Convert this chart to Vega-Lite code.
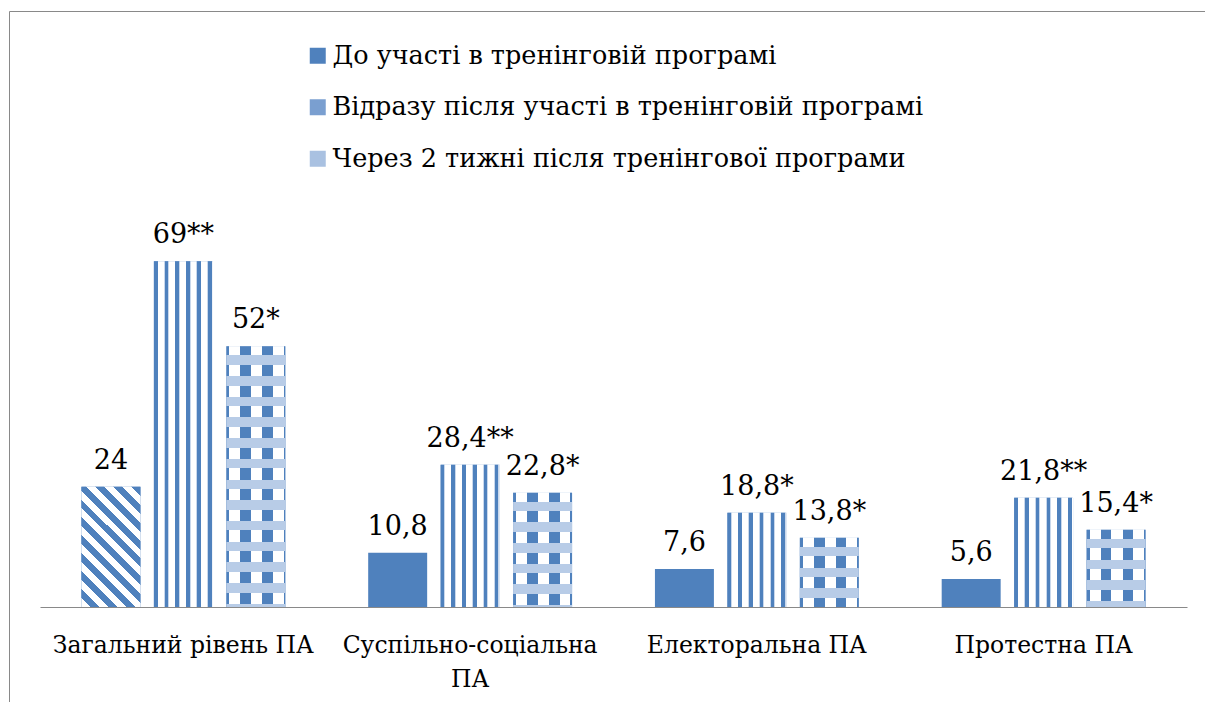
{
  "$schema": "https://vega.github.io/schema/vega-lite/v6.json",
  "width": 1202,
  "height": 697,
  "autosize": {"type": "none"},
  "padding": {"left": 9, "top": 11, "right": -6, "bottom": -6},
  "background": "#ffffff",
  "config": {
    "view": {"stroke": "#898989", "strokeWidth": 1},
    "font": "DejaVu Serif"
  },
  "data": {
    "values": [
      {"cat": "Загальний рівень ПА", "g": 1, "series": "До участі в тренінговій програмі", "k": 1, "v": 24, "lbl": "24"},
      {"cat": "Загальний рівень ПА", "g": 1, "series": "Відразу після участі в тренінговій програмі", "k": 2, "v": 69, "lbl": "69**"},
      {"cat": "Загальний рівень ПА", "g": 1, "series": "Через 2 тижні після тренінгової програми", "k": 3, "v": 52, "lbl": "52*"},
      {"cat": "Суспільно-соціальна ПА", "g": 2, "series": "До участі в тренінговій програмі", "k": 1, "v": 10.8, "lbl": "10,8"},
      {"cat": "Суспільно-соціальна ПА", "g": 2, "series": "Відразу після участі в тренінговій програмі", "k": 2, "v": 28.4, "lbl": "28,4**"},
      {"cat": "Суспільно-соціальна ПА", "g": 2, "series": "Через 2 тижні після тренінгової програми", "k": 3, "v": 22.8, "lbl": "22,8*"},
      {"cat": "Електоральна ПА", "g": 3, "series": "До участі в тренінговій програмі", "k": 1, "v": 7.6, "lbl": "7,6"},
      {"cat": "Електоральна ПА", "g": 3, "series": "Відразу після участі в тренінговій програмі", "k": 2, "v": 18.8, "lbl": "18,8*"},
      {"cat": "Електоральна ПА", "g": 3, "series": "Через 2 тижні після тренінгової програми", "k": 3, "v": 13.8, "lbl": "13,8*"},
      {"cat": "Протестна ПА", "g": 4, "series": "До участі в тренінговій програмі", "k": 1, "v": 5.6, "lbl": "5,6"},
      {"cat": "Протестна ПА", "g": 4, "series": "Відразу після участі в тренінговій програмі", "k": 2, "v": 21.8, "lbl": "21,8**"},
      {"cat": "Протестна ПА", "g": 4, "series": "Через 2 тижні після тренінгової програми", "k": 3, "v": 15.4, "lbl": "15,4*"}
    ]
  },
  "encoding": {
    "x": {
      "field": "cat",
      "type": "nominal",
      "sort": ["Загальний рівень ПА", "Суспільно-соціальна ПА", "Електоральна ПА", "Протестна ПА"],
      "scale": {"range": [31, 1178], "paddingInner": 0, "paddingOuter": 0},
      "axis": {
        "title": null,
        "orient": "bottom",
        "offset": -101,
        "domainColor": "#898989",
        "domainWidth": 1,
        "ticks": false,
        "grid": false,
        "labelFont": "DejaVu Serif",
        "labelFontSize": 23.5,
        "labelColor": "#000000",
        "labelPadding": 45,
        "labelBaseline": "alphabetic",
        "labelLineHeight": 34,
        "labelAngle": 0,
        "labelLimit": 600,
        "labelOverlap": false,
        "labelExpr": "datum.label == 'Суспільно-соціальна ПА' ? ['Суспільно-соціальна', 'ПА'] : datum.label"
      }
    },
    "xOffset": {
      "field": "series",
      "type": "nominal",
      "sort": ["До участі в тренінговій програмі", "Відразу після участі в тренінговій програмі", "Через 2 тижні після тренінгової програми"],
      "scale": {"paddingInner": 0.186, "paddingOuter": 0.572}
    },
    "y": {
      "field": "v",
      "type": "quantitative",
      "scale": {"domain": [0, 80], "range": [596, 195], "nice": false, "zero": true},
      "axis": null
    }
  },
  "layer": [
    {
      "mark": {"type": "bar"},
      "encoding": {
        "color": {
          "field": "series",
          "type": "nominal",
          "scale": {
            "domain": ["До участі в тренінговій програмі", "Відразу після участі в тренінговій програмі", "Через 2 тижні після тренінгової програми"],
            "range": ["#4F81BD", "#7A9FD0", "#A9C1E1"]
          },
          "legend": {
            "title": null,
            "orient": "none",
            "legendX": 296,
            "legendY": 32,
            "direction": "vertical",
            "padding": 0,
            "labelFont": "DejaVu Serif",
            "labelFontSize": 25.5,
            "labelColor": "#000000",
            "labelLimit": 900,
            "labelOffset": 2,
            "rowPadding": 24.5,
            "symbolType": "square",
            "symbolSize": 256,
            "symbolStrokeWidth": 0,
            "symbolOpacity": 1
          }
        }
      }
    },
    {
      "transform": [{"filter": "datum.k == 2"}],
      "mark": {
        "type": "bar",
        "fill": {
          "gradient": "linear", "x1": 0, "y1": 0, "x2": 1, "y2": 0,
          "stops": [
            {"offset": 0, "color": "#4F81BD"}, {"offset": 0.062, "color": "#4F81BD"},
            {"offset": 0.062, "color": "#C9D8EC"}, {"offset": 0.072, "color": "#C9D8EC"},
            {"offset": 0.072, "color": "#FFFFFF"}, {"offset": 0.173, "color": "#FFFFFF"},
            {"offset": 0.173, "color": "#C9D8EC"}, {"offset": 0.183, "color": "#C9D8EC"},
            {"offset": 0.183, "color": "#4F81BD"}, {"offset": 0.245, "color": "#4F81BD"},
            {"offset": 0.245, "color": "#C9D8EC"}, {"offset": 0.255, "color": "#C9D8EC"},
            {"offset": 0.255, "color": "#FFFFFF"}, {"offset": 0.356, "color": "#FFFFFF"},
            {"offset": 0.356, "color": "#C9D8EC"}, {"offset": 0.366, "color": "#C9D8EC"},
            {"offset": 0.366, "color": "#4F81BD"}, {"offset": 0.428, "color": "#4F81BD"},
            {"offset": 0.428, "color": "#C9D8EC"}, {"offset": 0.438, "color": "#C9D8EC"},
            {"offset": 0.438, "color": "#FFFFFF"}, {"offset": 0.539, "color": "#FFFFFF"},
            {"offset": 0.539, "color": "#C9D8EC"}, {"offset": 0.549, "color": "#C9D8EC"},
            {"offset": 0.549, "color": "#4F81BD"}, {"offset": 0.611, "color": "#4F81BD"},
            {"offset": 0.611, "color": "#C9D8EC"}, {"offset": 0.621, "color": "#C9D8EC"},
            {"offset": 0.621, "color": "#FFFFFF"}, {"offset": 0.722, "color": "#FFFFFF"},
            {"offset": 0.722, "color": "#C9D8EC"}, {"offset": 0.732, "color": "#C9D8EC"},
            {"offset": 0.732, "color": "#4F81BD"}, {"offset": 0.794, "color": "#4F81BD"},
            {"offset": 0.794, "color": "#C9D8EC"}, {"offset": 0.804, "color": "#C9D8EC"},
            {"offset": 0.804, "color": "#FFFFFF"}, {"offset": 0.905, "color": "#FFFFFF"},
            {"offset": 0.905, "color": "#C9D8EC"}, {"offset": 0.915, "color": "#C9D8EC"},
            {"offset": 0.915, "color": "#4F81BD"}, {"offset": 0.977, "color": "#4F81BD"},
            {"offset": 0.977, "color": "#C9D8EC"}, {"offset": 0.987, "color": "#C9D8EC"},
            {"offset": 0.987, "color": "#FFFFFF"}, {"offset": 1, "color": "#FFFFFF"}
          ]
        }
      }
    },
    {
      "transform": [{"filter": "datum.k == 3"}],
      "mark": {
        "type": "bar",
        "fill": {
          "gradient": "linear", "x1": 0, "y1": 0, "x2": 1, "y2": 0,
          "stops": [
            {"offset": 0, "color": "#4F81BD"}, {"offset": 0.05, "color": "#4F81BD"},
            {"offset": 0.05, "color": "#FFFFFF"}, {"offset": 0.24, "color": "#FFFFFF"},
            {"offset": 0.24, "color": "#4F81BD"}, {"offset": 0.42, "color": "#4F81BD"},
            {"offset": 0.42, "color": "#FFFFFF"}, {"offset": 0.61, "color": "#FFFFFF"},
            {"offset": 0.61, "color": "#4F81BD"}, {"offset": 0.79, "color": "#4F81BD"},
            {"offset": 0.79, "color": "#FFFFFF"}, {"offset": 0.97, "color": "#FFFFFF"},
            {"offset": 0.97, "color": "#4F81BD"}, {"offset": 1, "color": "#4F81BD"}
          ]
        }
      }
    },
    {
      "transform": [{"filter": "datum.k == 3 && datum.g == 1"}],
      "mark": {
        "type": "bar",
        "fill": {
          "gradient": "linear", "x1": 0, "y1": 0, "x2": 0, "y2": 1,
          "stops": [
            {"offset": 0, "color": "rgba(184,204,231,0)"}, {"offset": 0.0345, "color": "rgba(184,204,231,0)"},
            {"offset": 0.0345, "color": "#B8CCE7"}, {"offset": 0.071, "color": "#B8CCE7"},
            {"offset": 0.071, "color": "rgba(184,204,231,0)"}, {"offset": 0.1139, "color": "rgba(184,204,231,0)"},
            {"offset": 0.1139, "color": "#B8CCE7"}, {"offset": 0.1504, "color": "#B8CCE7"},
            {"offset": 0.1504, "color": "rgba(184,204,231,0)"}, {"offset": 0.1934, "color": "rgba(184,204,231,0)"},
            {"offset": 0.1934, "color": "#B8CCE7"}, {"offset": 0.2298, "color": "#B8CCE7"},
            {"offset": 0.2298, "color": "rgba(184,204,231,0)"}, {"offset": 0.2728, "color": "rgba(184,204,231,0)"},
            {"offset": 0.2728, "color": "#B8CCE7"}, {"offset": 0.3092, "color": "#B8CCE7"},
            {"offset": 0.3092, "color": "rgba(184,204,231,0)"}, {"offset": 0.3522, "color": "rgba(184,204,231,0)"},
            {"offset": 0.3522, "color": "#B8CCE7"}, {"offset": 0.3886, "color": "#B8CCE7"},
            {"offset": 0.3886, "color": "rgba(184,204,231,0)"}, {"offset": 0.4316, "color": "rgba(184,204,231,0)"},
            {"offset": 0.4316, "color": "#B8CCE7"}, {"offset": 0.4681, "color": "#B8CCE7"},
            {"offset": 0.4681, "color": "rgba(184,204,231,0)"}, {"offset": 0.511, "color": "rgba(184,204,231,0)"},
            {"offset": 0.511, "color": "#B8CCE7"}, {"offset": 0.5475, "color": "#B8CCE7"},
            {"offset": 0.5475, "color": "rgba(184,204,231,0)"}, {"offset": 0.5904, "color": "rgba(184,204,231,0)"},
            {"offset": 0.5904, "color": "#B8CCE7"}, {"offset": 0.6269, "color": "#B8CCE7"},
            {"offset": 0.6269, "color": "rgba(184,204,231,0)"}, {"offset": 0.6699, "color": "rgba(184,204,231,0)"},
            {"offset": 0.6699, "color": "#B8CCE7"}, {"offset": 0.7063, "color": "#B8CCE7"},
            {"offset": 0.7063, "color": "rgba(184,204,231,0)"}, {"offset": 0.7493, "color": "rgba(184,204,231,0)"},
            {"offset": 0.7493, "color": "#B8CCE7"}, {"offset": 0.7857, "color": "#B8CCE7"},
            {"offset": 0.7857, "color": "rgba(184,204,231,0)"}, {"offset": 0.8287, "color": "rgba(184,204,231,0)"},
            {"offset": 0.8287, "color": "#B8CCE7"}, {"offset": 0.8651, "color": "#B8CCE7"},
            {"offset": 0.8651, "color": "rgba(184,204,231,0)"}, {"offset": 0.9081, "color": "rgba(184,204,231,0)"},
            {"offset": 0.9081, "color": "#B8CCE7"}, {"offset": 0.9446, "color": "#B8CCE7"},
            {"offset": 0.9446, "color": "rgba(184,204,231,0)"}, {"offset": 0.9875, "color": "rgba(184,204,231,0)"},
            {"offset": 0.9875, "color": "#B8CCE7"}, {"offset": 1, "color": "#B8CCE7"}
          ]
        }
      }
    },
    {
      "transform": [{"filter": "datum.k == 3 && datum.g == 2"}],
      "mark": {
        "type": "bar",
        "fill": {
          "gradient": "linear", "x1": 0, "y1": 0, "x2": 0, "y2": 1,
          "stops": [
            {"offset": 0, "color": "rgba(184,204,231,0)"}, {"offset": 0.0787, "color": "rgba(184,204,231,0)"},
            {"offset": 0.0787, "color": "#B8CCE7"}, {"offset": 0.1619, "color": "#B8CCE7"},
            {"offset": 0.1619, "color": "rgba(184,204,231,0)"}, {"offset": 0.2598, "color": "rgba(184,204,231,0)"},
            {"offset": 0.2598, "color": "#B8CCE7"}, {"offset": 0.343, "color": "#B8CCE7"},
            {"offset": 0.343, "color": "rgba(184,204,231,0)"}, {"offset": 0.4409, "color": "rgba(184,204,231,0)"},
            {"offset": 0.4409, "color": "#B8CCE7"}, {"offset": 0.5241, "color": "#B8CCE7"},
            {"offset": 0.5241, "color": "rgba(184,204,231,0)"}, {"offset": 0.622, "color": "rgba(184,204,231,0)"},
            {"offset": 0.622, "color": "#B8CCE7"}, {"offset": 0.7052, "color": "#B8CCE7"},
            {"offset": 0.7052, "color": "rgba(184,204,231,0)"}, {"offset": 0.8031, "color": "rgba(184,204,231,0)"},
            {"offset": 0.8031, "color": "#B8CCE7"}, {"offset": 0.8863, "color": "#B8CCE7"},
            {"offset": 0.8863, "color": "rgba(184,204,231,0)"}, {"offset": 0.9843, "color": "rgba(184,204,231,0)"},
            {"offset": 0.9843, "color": "#B8CCE7"}, {"offset": 1, "color": "#B8CCE7"}
          ]
        }
      }
    },
    {
      "transform": [{"filter": "datum.k == 3 && datum.g == 3"}],
      "mark": {
        "type": "bar",
        "fill": {
          "gradient": "linear", "x1": 0, "y1": 0, "x2": 0, "y2": 1,
          "stops": [
            {"offset": 0, "color": "rgba(184,204,231,0)"}, {"offset": 0.1301, "color": "rgba(184,204,231,0)"},
            {"offset": 0.1301, "color": "#B8CCE7"}, {"offset": 0.2673, "color": "#B8CCE7"},
            {"offset": 0.2673, "color": "rgba(184,204,231,0)"}, {"offset": 0.4292, "color": "rgba(184,204,231,0)"},
            {"offset": 0.4292, "color": "#B8CCE7"}, {"offset": 0.5665, "color": "#B8CCE7"},
            {"offset": 0.5665, "color": "rgba(184,204,231,0)"}, {"offset": 0.7283, "color": "rgba(184,204,231,0)"},
            {"offset": 0.7283, "color": "#B8CCE7"}, {"offset": 0.8656, "color": "#B8CCE7"},
            {"offset": 0.8656, "color": "rgba(184,204,231,0)"}, {"offset": 1, "color": "rgba(184,204,231,0)"}
          ]
        }
      }
    },
    {
      "transform": [{"filter": "datum.k == 3 && datum.g == 4"}],
      "mark": {
        "type": "bar",
        "fill": {
          "gradient": "linear", "x1": 0, "y1": 0, "x2": 0, "y2": 1,
          "stops": [
            {"offset": 0, "color": "rgba(184,204,231,0)"}, {"offset": 0.1166, "color": "rgba(184,204,231,0)"},
            {"offset": 0.1166, "color": "#B8CCE7"}, {"offset": 0.2396, "color": "#B8CCE7"},
            {"offset": 0.2396, "color": "rgba(184,204,231,0)"}, {"offset": 0.3847, "color": "rgba(184,204,231,0)"},
            {"offset": 0.3847, "color": "#B8CCE7"}, {"offset": 0.5078, "color": "#B8CCE7"},
            {"offset": 0.5078, "color": "rgba(184,204,231,0)"}, {"offset": 0.6528, "color": "rgba(184,204,231,0)"},
            {"offset": 0.6528, "color": "#B8CCE7"}, {"offset": 0.7759, "color": "#B8CCE7"},
            {"offset": 0.7759, "color": "rgba(184,204,231,0)"}, {"offset": 0.921, "color": "rgba(184,204,231,0)"},
            {"offset": 0.921, "color": "#B8CCE7"}, {"offset": 1, "color": "#B8CCE7"}
          ]
        }
      }
    },
    {
      "transform": [{"filter": "datum.k == 1 && datum.g == 1"}],
      "mark": {
        "type": "bar",
        "fill": {
          "gradient": "linear", "x1": 0, "y1": 1, "x2": 0.5888, "y2": -0.2015,
          "stops": [
            {"offset": 0, "color": "#FFFFFF"}, {"offset": 0.05, "color": "#FFFFFF"},
            {"offset": 0.05, "color": "#4F81BD"}, {"offset": 0.1, "color": "#4F81BD"},
            {"offset": 0.1, "color": "#FFFFFF"}, {"offset": 0.15, "color": "#FFFFFF"},
            {"offset": 0.15, "color": "#4F81BD"}, {"offset": 0.2, "color": "#4F81BD"},
            {"offset": 0.2, "color": "#FFFFFF"}, {"offset": 0.25, "color": "#FFFFFF"},
            {"offset": 0.25, "color": "#4F81BD"}, {"offset": 0.3, "color": "#4F81BD"},
            {"offset": 0.3, "color": "#FFFFFF"}, {"offset": 0.35, "color": "#FFFFFF"},
            {"offset": 0.35, "color": "#4F81BD"}, {"offset": 0.4, "color": "#4F81BD"},
            {"offset": 0.4, "color": "#FFFFFF"}, {"offset": 0.45, "color": "#FFFFFF"},
            {"offset": 0.45, "color": "#4F81BD"}, {"offset": 0.5, "color": "#4F81BD"},
            {"offset": 0.5, "color": "#FFFFFF"}, {"offset": 0.55, "color": "#FFFFFF"},
            {"offset": 0.55, "color": "#4F81BD"}, {"offset": 0.6, "color": "#4F81BD"},
            {"offset": 0.6, "color": "#FFFFFF"}, {"offset": 0.65, "color": "#FFFFFF"},
            {"offset": 0.65, "color": "#4F81BD"}, {"offset": 0.7, "color": "#4F81BD"},
            {"offset": 0.7, "color": "#FFFFFF"}, {"offset": 0.75, "color": "#FFFFFF"},
            {"offset": 0.75, "color": "#4F81BD"}, {"offset": 0.8, "color": "#4F81BD"},
            {"offset": 0.8, "color": "#FFFFFF"}, {"offset": 0.85, "color": "#FFFFFF"},
            {"offset": 0.85, "color": "#4F81BD"}, {"offset": 0.9, "color": "#4F81BD"},
            {"offset": 0.9, "color": "#FFFFFF"}, {"offset": 0.95, "color": "#FFFFFF"},
            {"offset": 0.95, "color": "#4F81BD"}, {"offset": 1, "color": "#4F81BD"}
          ]
        }
      }
    },
    {
      "mark": {
        "type": "text",
        "font": "DejaVu Serif",
        "fontSize": 27,
        "color": "#000000",
        "align": "center",
        "baseline": "alphabetic",
        "dy": -18
      },
      "encoding": {
        "text": {"field": "lbl", "type": "nominal"}
      }
    }
  ]
}
